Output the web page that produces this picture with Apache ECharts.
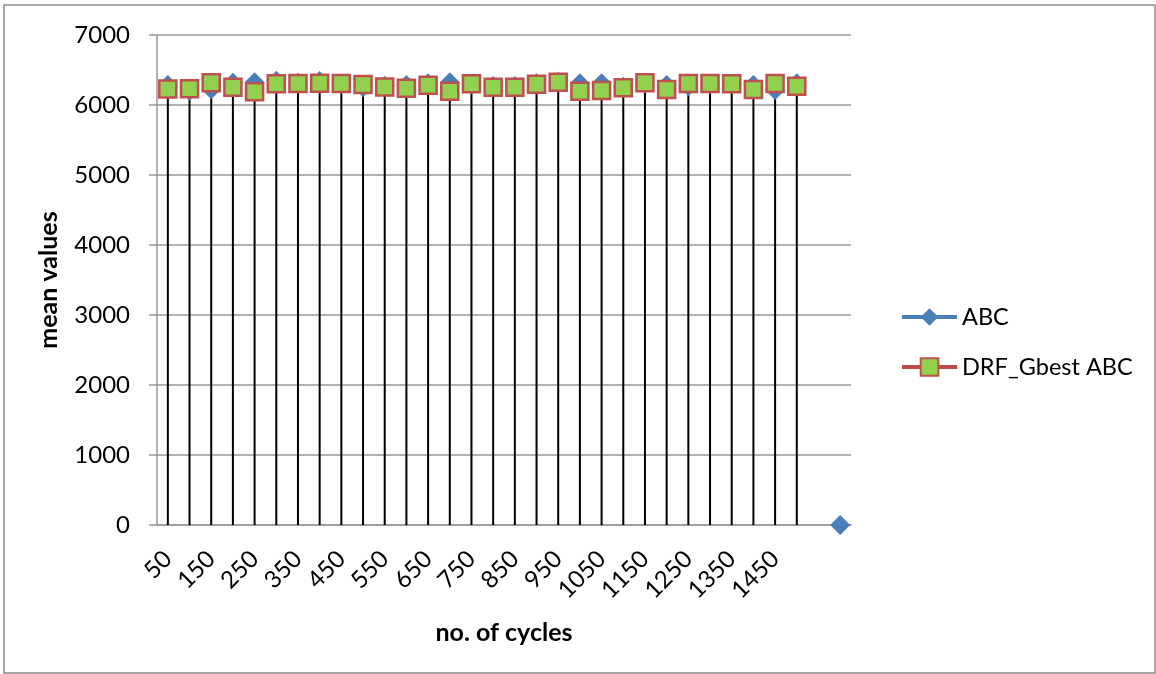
<!DOCTYPE html>
<html>
<head>
<meta charset="utf-8">
<script src="https://cdn.jsdelivr.net/npm/echarts@6/dist/echarts.min.js"></script>
<style>
  html, body { margin: 0; padding: 0; background: #fff; }
  #chart { width: 1156px; height: 674px; }
</style>
</head>
<body>
<div id="chart"></div>
<script>
// Cycle counts on the x axis (two trailing slots without labels)
const cycles = ['50','100','150','200','250','300','350','400','450','500',
                '550','600','650','700','750','800','850','900','950','1000',
                '1050','1100','1150','1200','1250','1300','1350','1400','1450','1500',
                '',''];

// Mean values per cycle count
const abcValues = [6286, 6204, 6224, 6319, 6324, 6347, 6319, 6343, 6300, 6252,
                   6276, 6286, 6310, 6324, 6300, 6271, 6271, 6310, 6333, 6310,
                   6310, 6262, 6310, 6286, 6271, 6300, 6300, 6286, 6214, 6310,
                   null, 0];
const drfValues = [6229, 6231, 6317, 6254, 6188, 6303, 6307, 6312, 6307, 6293,
                   6257, 6240, 6283, 6197, 6303, 6254, 6254, 6295, 6326, 6197,
                   6207, 6245, 6317, 6221, 6307, 6307, 6303, 6221, 6307, 6269,
                   null, null];

const yTicks = { min: 0, max: 7000, step: 1000 };

// Drop lines run from the highest point of each category down to the axis
const dropData = cycles.map((c, i) => {
  const vals = [abcValues[i], drfValues[i]].filter(v => v != null);
  return vals.length ? [i, Math.max(...vals)] : null;
}).filter(d => d);

const FONT = 'Lato, "Liberation Sans", sans-serif';
const GRID = '#989898';

const chart = echarts.init(document.getElementById('chart'), null, { renderer: 'canvas' });

chart.setOption({
  animation: false,
  backgroundColor: '#fff',
  graphic: [{
    type: 'rect',
    shape: { x: 4, y: 5, width: 1151, height: 668 },
    style: { fill: 'none', stroke: '#8a8a8a', lineWidth: 1.5 },
    z: -1
  }],
  grid: { left: 157, right: 305, top: 35, bottom: 149 },
  legend: {
    orient: 'vertical',
    left: 900,
    top: 305,
    padding: 0,
    itemWidth: 55,
    itemHeight: 22,
    itemGap: 26,
    textStyle: { fontFamily: FONT, fontSize: 23.5, color: '#000' },
    data: [
      { name: 'ABC', lineStyle: { opacity: 1, width: 4, color: '#4A7EBB' } },
      { name: 'DRF_Gbest ABC', lineStyle: { opacity: 1, width: 4, color: '#BE4B48' } }
    ]
  },
  xAxis: {
    type: 'category',
    data: cycles,
    boundaryGap: true,
    name: 'no. of cycles',
    nameLocation: 'middle',
    nameGap: 95,
    nameTextStyle: { fontFamily: FONT, fontSize: 25, fontWeight: 'bold', color: '#000' },
    axisLine: { lineStyle: { color: GRID, width: 1.5 } },
    axisTick: { show: false },
    axisLabel: {
      interval: 1,
      rotate: 45,
      margin: 30,
      fontFamily: FONT,
      fontSize: 24,
      color: '#000'
    },
    splitLine: { show: false }
  },
  yAxis: {
    type: 'value',
    min: yTicks.min,
    max: yTicks.max,
    interval: yTicks.step,
    name: 'mean values',
    nameLocation: 'middle',
    nameGap: 96,
    nameTextStyle: { fontFamily: FONT, fontSize: 25, fontWeight: 'bold', color: '#000' },
    axisLine: { show: true, lineStyle: { color: GRID, width: 1.5 } },
    axisTick: { show: true, length: 8, lineStyle: { color: GRID, width: 1.5 } },
    axisLabel: {
      margin: 27,
      fontFamily: FONT,
      fontSize: 24,
      color: '#000',
      formatter: v => String(v)
    },
    splitLine: { lineStyle: { color: GRID, width: 1.5 } }
  },
  series: [
    {
      type: 'custom',
      name: 'drop',
      silent: true,
      z: 1,
      data: dropData,
      renderItem: (params, api) => {
        const top = api.coord([api.value(0), api.value(1)]);
        const bottom = api.coord([api.value(0), 0]);
        return {
          type: 'line',
          shape: { x1: top[0], y1: top[1], x2: bottom[0], y2: bottom[1] },
          style: { stroke: '#000', lineWidth: 2 }
        };
      }
    },
    {
      name: 'ABC',
      type: 'line',
      z: 2,
      data: abcValues,
      symbol: 'diamond',
      symbolSize: 20,
      showAllSymbol: true,
      connectNulls: false,
      lineStyle: { opacity: 0, width: 4, color: '#4A7EBB' },
      itemStyle: { color: '#4A7EBB' }
    },
    {
      name: 'DRF_Gbest ABC',
      type: 'line',
      z: 3,
      data: drfValues,
      symbol: 'rect',
      symbolSize: 17,
      showAllSymbol: true,
      lineStyle: { opacity: 0, width: 4, color: '#BE4B48' },
      itemStyle: { color: '#92D050', borderColor: '#C0504D', borderWidth: 2.5 }
    }
  ]
});
</script>
</body>
</html>
